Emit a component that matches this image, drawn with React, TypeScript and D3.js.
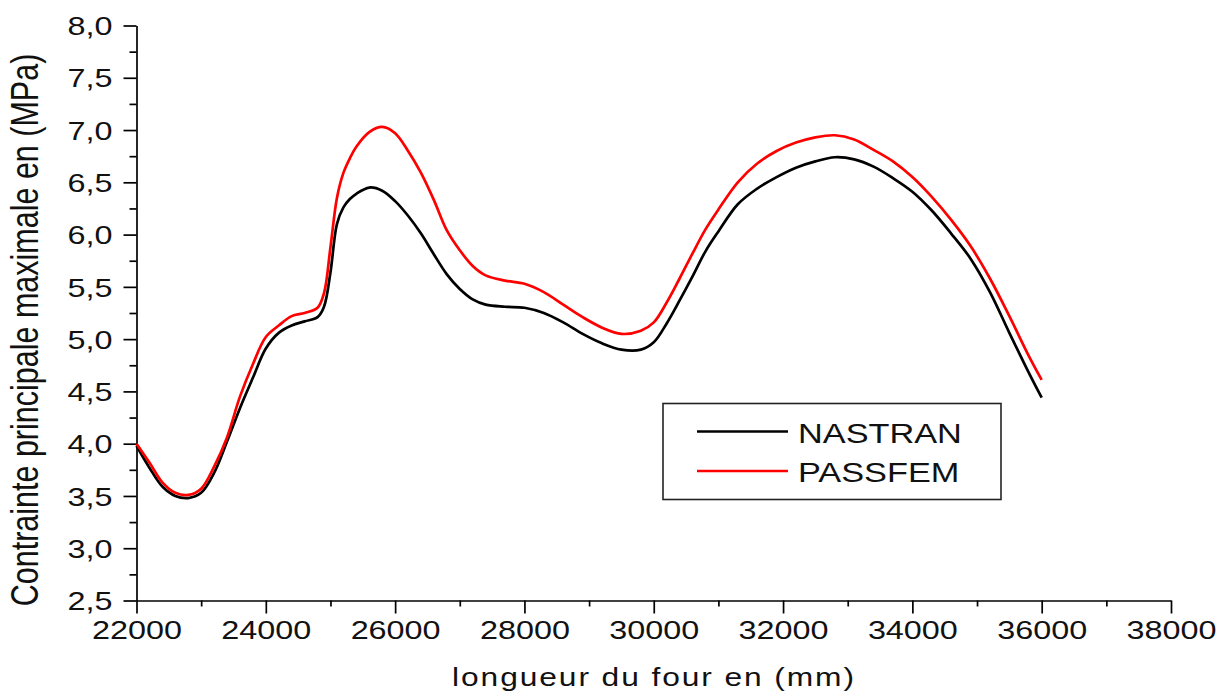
import React, { useEffect, useRef } from "react";
import * as d3 from "d3";

const xs = [
  22000, 22200, 22400, 22600, 22800, 23000, 23200, 23400, 23600, 23800, 24000, 24200,
  24400, 24600, 24800, 24900, 25000, 25100, 25200, 25300, 25400, 25600, 25800, 26000,
  26200, 26400, 26600, 26800, 27000, 27200, 27400, 27700, 28000, 28300, 28600, 28900,
  29200, 29500, 29800, 30000, 30200, 30400, 30600, 30800, 31000, 31300, 31600, 31900,
  32200, 32500, 32800, 33100, 33400, 33700, 34000, 34300, 34600, 34900, 35200, 35500,
  35800, 36000,
];

const nastran = [
  3.98, 3.77, 3.59, 3.5, 3.48, 3.53, 3.72, 4.02, 4.34, 4.63, 4.91, 5.06,
  5.13, 5.17, 5.21, 5.31, 5.64, 6.1, 6.26, 6.34, 6.39, 6.45, 6.42, 6.32,
  6.18, 6.01, 5.81, 5.62, 5.48, 5.38, 5.33, 5.31, 5.3, 5.25, 5.16, 5.05,
  4.96, 4.9, 4.9, 4.97, 5.15, 5.37, 5.6, 5.84, 6.03, 6.29, 6.44, 6.55,
  6.64, 6.7, 6.74, 6.72, 6.65, 6.54, 6.41, 6.23, 6.01, 5.77, 5.45, 5.06,
  4.68, 4.44,
];

const passfem = [
  4.0, 3.82, 3.63, 3.53, 3.51, 3.57, 3.78, 4.06, 4.45, 4.76, 5.02, 5.13,
  5.22, 5.25, 5.3, 5.44, 5.88, 6.35, 6.59, 6.73, 6.84, 6.98, 7.03, 6.97,
  6.8, 6.59, 6.33, 6.04, 5.85, 5.7, 5.61, 5.56, 5.53, 5.45, 5.33, 5.21,
  5.11, 5.05, 5.08, 5.16, 5.35, 5.58, 5.82, 6.05, 6.24, 6.5, 6.68, 6.8,
  6.88, 6.93, 6.95, 6.91, 6.81, 6.7, 6.55, 6.36, 6.14, 5.89, 5.58, 5.22,
  4.84, 4.61,
];

const seriesNames = ["NASTRAN", "PASSFEM"];
const seriesColors = ["#000000", "#ff0000"];

const xTicks = [22000, 24000, 26000, 28000, 30000, 32000, 34000, 36000, 38000];
const yTicks = [2.5, 3.0, 3.5, 4.0, 4.5, 5.0, 5.5, 6.0, 6.5, 7.0, 7.5, 8.0];

const W = 1221;
const H = 695;
const stretch = 1.27; // the picture is stretched sideways
const font = "'Liberation Sans', Arial, sans-serif";

export default function App() {
  const ref = useRef<SVGSVGElement>(null);

  useEffect(() => {
    const svg = d3.select(ref.current);
    svg.selectAll("*").remove();

    const x = d3.scaleLinear().domain([22000, 38000]).range([136.5, 1171]);
    const y = d3.scaleLinear().domain([2.5, 8]).range([600.5, 25.5]);

    // minor ticks
    const xMinor = d3.range(23000, 38000, 2000);
    svg.append("g")
      .attr("transform", "translate(0,600.5)")
      .call(d3.axisBottom(x).tickValues(xMinor).tickSize(6).tickFormat(() => ""))
      .call((g) => g.select(".domain").remove());
    const yMinor = d3.range(2.75, 8, 0.5);
    svg.append("g")
      .attr("transform", "translate(136.5,0)")
      .call(d3.axisLeft(y).tickValues(yMinor).tickSize(7).tickFormat(() => ""))
      .call((g) => g.select(".domain").remove());

    const gx = svg.append("g")
      .attr("transform", "translate(0,600.5)")
      .call(d3.axisBottom(x).tickValues(xTicks).tickSize(13).tickSizeOuter(0).tickFormat(d3.format("d")));
    gx.selectAll("text")
      .attr("y", 39)
      .attr("dy", 0)
      .attr("transform", `scale(${stretch},1)`);

    const gy = svg.append("g")
      .attr("transform", "translate(136.5,0)")
      .call(d3.axisLeft(y).tickValues(yTicks).tickSize(13).tickSizeOuter(0)
        .tickFormat((d) => d3.format(".1f")(d as number).replace(".", ",")));
    gy.selectAll("text")
      .attr("x", -24 / stretch)
      .attr("dy", "0.36em")
      .attr("transform", `scale(${stretch},1)`);

    svg.selectAll(".tick line, .domain").attr("stroke", "#000").attr("stroke-width", 1.7);
    svg.selectAll(".tick text")
      .attr("font-family", font)
      .attr("font-size", 25.5)
      .attr("fill", "#111");

    const line = d3.line<number>()
      .x((_, i) => x(xs[i]))
      .y((d) => y(d))
      .curve(d3.curveCatmullRom);

    [nastran, passfem].forEach((vals, i) => {
      svg.append("path")
        .datum(vals)
        .attr("d", line)
        .attr("fill", "none")
        .attr("stroke", seriesColors[i])
        .attr("stroke-width", 2.7);
    });

    // axis titles
    svg.append("text")
      .attr("transform", `translate(38,330) scale(${stretch},1) rotate(-90)`)
      .attr("text-anchor", "middle")
      .attr("font-family", font)
      .attr("font-size", 30.5)
      .attr("fill", "#111")
      .text("Contrainte principale maximale en (MPa)");

    svg.append("text")
      .attr("transform", `translate(654,686) scale(${stretch},1)`)
      .attr("text-anchor", "middle")
      .attr("font-family", font)
      .attr("font-size", 25)
      .attr("letter-spacing", 1.5)
      .attr("fill", "#111")
      .text("longueur du four en (mm)");

    // legend
    const lg = svg.append("g");
    lg.append("rect")
      .attr("x", 663).attr("y", 403.5)
      .attr("width", 338).attr("height", 96)
      .attr("fill", "#fff")
      .attr("stroke", "#222")
      .attr("stroke-width", 1.6);
    seriesNames.forEach((name, i) => {
      const ly = 431.5 + i * 39.5;
      lg.append("line")
        .attr("x1", 697).attr("x2", 788)
        .attr("y1", ly).attr("y2", ly)
        .attr("stroke", seriesColors[i])
        .attr("stroke-width", 2.7);
      lg.append("text")
        .attr("transform", `translate(798,${ly + 11}) scale(${stretch},1)`)
        .attr("font-family", font)
        .attr("font-size", 27)
        .attr("fill", "#111")
        .text(name);
    });
  }, []);

  return (
    <svg
      ref={ref}
      width={W}
      height={H}
      style={{ position: "absolute", left: 0, top: 0, background: "#fff" }}
    />
  );
}
